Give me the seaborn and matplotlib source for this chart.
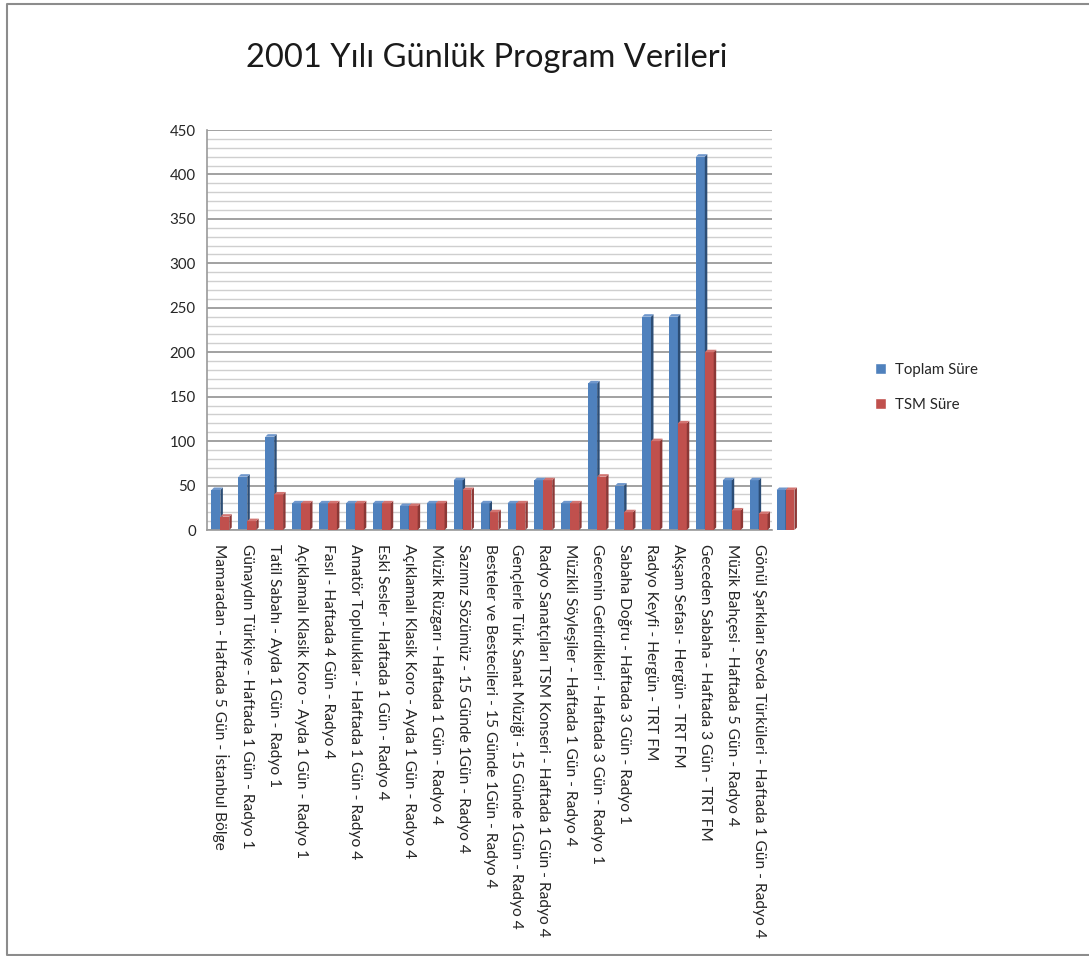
import numpy as np
import pandas as pd
import seaborn as sns
import matplotlib.pyplot as plt
from matplotlib.patches import Polygon, Rectangle
from matplotlib.lines import Line2D

programs = [
    "Mamaradan - Haftada 5 Gün - İstanbul Bölge",
    "Günaydın Türkiye - Haftada 1 Gün - Radyo 1",
    "Tatil Sabahı - Ayda 1 Gün - Radyo 1",
    "Açıklamalı Klasik Koro - Ayda 1 Gün - Radyo 1",
    "Fasıl - Haftada 4 Gün - Radyo 4",
    "Amatör Topluluklar - Haftada 1 Gün - Radyo 4",
    "Eski Sesler - Haftada 1 Gün - Radyo 4",
    "Açıklamalı Klasik Koro - Ayda 1 Gün - Radyo 4",
    "Müzik Rüzgarı - Haftada 1 Gün - Radyo 4",
    "Sazımız Sözümüz - 15 Günde 1Gün - Radyo 4",
    "Besteler ve Bestecileri - 15 Günde 1Gün - Radyo 4",
    "Gençlerle Türk Sanat Müziği - 15 Günde 1Gün - Radyo 4",
    "Radyo Sanatçıları TSM Konseri - Haftada 1 Gün - Radyo 4",
    "Müzikli Söyleşiler - Haftada 1 Gün - Radyo 4",
    "Gecenin Getirdikleri - Haftada 3 Gün - Radyo 1",
    "Sabaha Doğru - Haftada 3 Gün - Radyo 1",
    "Radyo Keyfi - Hergün - TRT FM",
    "Akşam Sefası - Hergün - TRT FM",
    "Geceden Sabaha - Haftada 3 Gün - TRT FM",
    "Müzik Bahçesi - Haftada 5 Gün - Radyo 4",
    "Gönül Şarkıları Sevda Türküleri - Haftada 1 Gün - Radyo 4",
    "",
]
toplam_sure = [45, 60, 105, 30, 30, 30, 30, 27, 30, 56, 30, 30, 56, 30, 165, 50, 240, 240, 420, 56, 56, 45]
tsm_sure = [15, 10, 40, 30, 30, 30, 30, 27, 30, 45, 20, 30, 56, 30, 60, 20, 100, 120, 200, 22, 18, 45]
series = ["Toplam Süre", "TSM Süre"]
colors = ["#4F81BD", "#C0504D"]
side_colors = ["#2C4D75", "#8C3836"]
top_colors = ["#6F97CC", "#D27572"]

df = pd.DataFrame({
    "program": programs * 2,
    "seri": [series[0]] * len(programs) + [series[1]] * len(programs),
    "sure": toplam_sure + tsm_sure,
})

sns.set_style("white")
plt.rcParams["font.family"] = ["Lato", "DejaVu Sans"]

fig = plt.figure(figsize=(10.89, 9.56), dpi=100)
ax = fig.add_axes([0.190, 0.4456, 0.519, 0.4184])

sns.barplot(data=df, x="program", y="sure", hue="seri", order=programs,
            hue_order=series, palette=colors, width=0.66, saturation=1,
            ax=ax)

n_cat = len(programs) - 1
ax.set_xlim(-0.5, n_cat - 0.5)
ax.set_ylim(0, 450)

# gridlines (minor every 10, major every 50)
ax.set_yticks(np.arange(0, 451, 50))
ax.set_yticks(np.arange(0, 451, 10), minor=True)
ax.grid(axis="y", which="minor", color="#cfcfcf", lw=1.0, zorder=0)
ax.grid(axis="y", which="major", color="#9a9a9a", lw=1.3, zorder=0)
ax.set_axisbelow(True)

ax.set_xticks(range(n_cat))
ax.set_xticklabels(programs[:n_cat], rotation=270, ha="center", va="top",
                   fontsize=11.2)
ax.set_xticks(np.arange(-0.5, n_cat, 1), minor=True)
ax.tick_params(axis="x", which="major", length=0, pad=10)
ax.tick_params(axis="x", which="minor", length=7, color="#9a9a9a", width=1)
ax.tick_params(axis="y", which="major", length=5, color="#9a9a9a", width=1,
               labelsize=10.8, pad=3)
ax.tick_params(axis="y", which="minor", length=0)

for s in ["top", "right"]:
    ax.spines[s].set_visible(False)
for s in ["left", "bottom"]:
    ax.spines[s].set_color("#9a9a9a")
    ax.spines[s].set_linewidth(1.2)

ax.set_xlabel("")
ax.set_ylabel("")

# simple 3D look: dark side face and light cap on each bar
fig.canvas.draw()
inv = ax.transData.inverted()
x0, y0 = inv.transform((0, 0))
x1, y1 = inv.transform((2.5, 2.5))
ddx, ddy = x1 - x0, y1 - y0
bars = [p for p in ax.patches if isinstance(p, Rectangle)]
nb = len(programs)
for i, bar in enumerate(bars[:2 * nb]):
    k = i // nb
    bar.set_clip_on(False)
    bar.set_edgecolor("none")
    bar.set_zorder(2 + k)
    x, y = bar.get_x(), bar.get_y()
    w, h = bar.get_width(), bar.get_height()
    side = Polygon([(x + w, y), (x + w + ddx, y + ddy),
                    (x + w + ddx, y + h + ddy), (x + w, y + h)],
                   closed=True, facecolor=side_colors[k], edgecolor="none",
                   clip_on=False, zorder=2.1 + k)
    top = Polygon([(x, y + h), (x + ddx, y + h + ddy),
                   (x + w + ddx, y + h + ddy), (x + w, y + h)],
                  closed=True, facecolor=top_colors[k], edgecolor="none",
                  clip_on=False, zorder=2.2 + k)
    ax.add_patch(side)
    ax.add_patch(top)

# legend
handles, labels = ax.get_legend_handles_labels()
ax.legend(handles[:2], series, loc="center left",
          bbox_to_anchor=(0.791, 0.595), bbox_transform=fig.transFigure,
          frameon=False, fontsize=10.8, handlelength=0.75, handleheight=0.75,
          handletextpad=0.6, labelspacing=1.4)

fig.text(0.447, 1 - 58 / 956, "2001 Yılı Günlük Program Verileri",
         ha="center", va="center", fontsize=23.5, color="#1a1a1a")

# chart area border: left, top and bottom only (right edge is off the picture)
bx0, by0, by1 = 7 / 1089, 1 / 956, 1 - 4 / 956
fig.lines.append(Line2D([1.0, bx0, bx0, 1.0], [by1, by1, by0, by0],
                        transform=fig.transFigure, color="#8c8c8c", lw=1.5))

fig.savefig("out.png", dpi=100)
